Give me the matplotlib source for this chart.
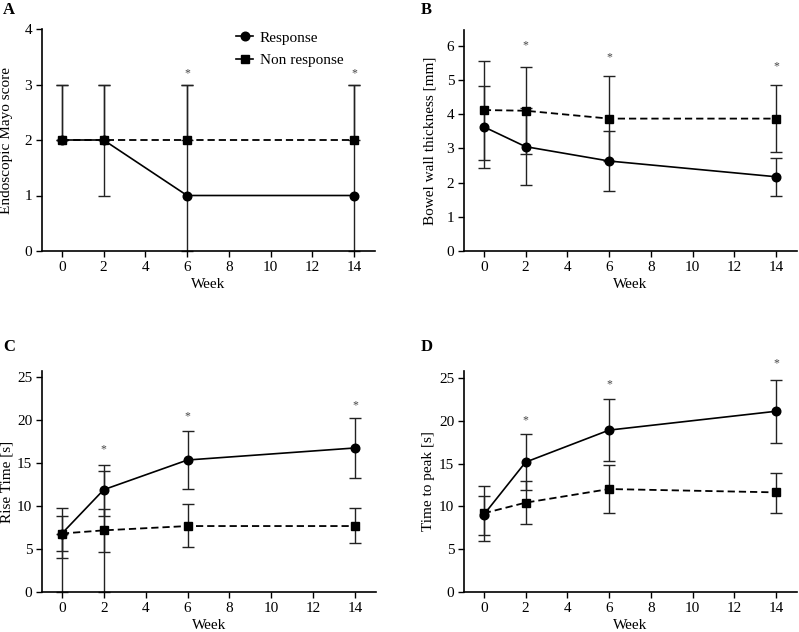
import matplotlib
matplotlib.use("Agg")
import matplotlib.pyplot as plt
from matplotlib.lines import Line2D
import numpy as np

plt.rcParams['font.family'] = ['Liberation Serif', 'DejaVu Serif']

weeks = [0, 2, 6, 14]
x_ticks = [0, 2, 4, 6, 8, 10, 12, 14]

# Panel A: Endoscopic Mayo score
a_resp = [2, 2, 1, 1]
a_resp_lo = [2, 1, 0, 0]
a_resp_hi = [3, 3, 3, 3]
a_non = [2, 2, 2, 2]
a_non_lo = [2, 2, 2, 2]
a_non_hi = [3, 3, 3, 3]
a_star_weeks = [6, 14]
a_star_y = [3.2, 3.2]

# Panel B: Bowel wall thickness
b_resp = [3.63, 3.05, 2.63, 2.17]
b_resp_lo = [2.43, 1.93, 1.75, 1.62]
b_resp_hi = [4.83, 4.17, 3.52, 2.71]
b_non = [4.12, 4.10, 3.87, 3.87]
b_non_lo = [2.67, 2.83, 2.62, 2.88]
b_non_hi = [5.56, 5.38, 5.12, 4.85]
b_star_weeks = [2, 6, 14]
b_star_y = [6.0, 5.66, 5.41]

# Panel C: Rise Time
c_resp = [6.8, 11.9, 15.35, 16.75]
c_resp_lo = [3.9, 8.88, 11.98, 13.22]
c_resp_hi = [9.73, 14.8, 18.68, 20.19]
c_non = [6.8, 7.17, 7.67, 7.67]
c_non_lo = [4.8, 4.65, 5.19, 5.74]
c_non_hi = [8.88, 9.69, 10.23, 9.77]
c_extra_weeks = [0, 2]
c_extra_lo = [0, 0]
c_extra_hi = [6.8, 14.03]
c_star_weeks = [2, 6, 14]
c_star_y = [16.6, 20.4, 21.7]

# Panel D: Time to peak
d_resp = [9.03, 15.16, 18.9, 21.1]
d_resp_lo = [6.67, 11.9, 15.35, 17.4]
d_resp_hi = [11.16, 18.41, 22.52, 24.8]
d_non = [9.19, 10.43, 12.02, 11.63]
d_non_lo = [5.97, 7.95, 9.26, 9.26]
d_non_hi = [12.33, 12.98, 14.8, 13.95]
d_star_weeks = [2, 6, 14]
d_star_y = [20.0, 24.3, 26.7]

fig = plt.figure(figsize=(7.99, 6.32), dpi=100)
W, H = 799.0, 632.0

def make_ax(l, r, t, b):
    return fig.add_axes([l / W, 1 - b / H, (r - l) / W, (b - t) / H])

axA = make_ax(42, 375, 29, 251)
axB = make_ax(464, 797, 30, 251)
axC = make_ax(42, 376, 371, 592)
axD = make_ax(464, 797, 371, 592)

def errbar(ax, x, y, lo, hi):
    y = np.array(y, float)
    lo = np.array(lo, float)
    hi = np.array(hi, float)
    ax.errorbar(x, y, yerr=[y - lo, hi - y], fmt='none', ecolor='#222222',
                elinewidth=1.0, capsize=4.6, capthick=1.0, clip_on=False, zorder=2)

def panel(ax, resp, rlo, rhi, non, nlo, nhi, ylim, yticks, ylabel, letter,
          star_w, star_y, letter_xy, label_x):
    errbar(ax, weeks, resp, rlo, rhi)
    errbar(ax, weeks, non, nlo, nhi)
    ax.plot(weeks, non, color='black', linestyle=(0, (4, 2.2)), linewidth=1.3,
            marker='s', markersize=6.2, clip_on=False, zorder=3)
    ax.plot(weeks, resp, color='black', linestyle='-', linewidth=1.2,
            marker='o', markersize=6.2, clip_on=False, zorder=4)
    for w, s in zip(star_w, star_y):
        ax.text(w, s, '*', ha='center', va='center', fontsize=8.5, color='#444444',
                clip_on=False)
    ax.set_xlim(-0.95, 15.0)
    ax.set_ylim(*ylim)
    ax.set_xticks(x_ticks)
    ax.set_yticks(yticks)
    ax.spines['top'].set_visible(False)
    ax.spines['right'].set_visible(False)
    for sp in ['left', 'bottom']:
        ax.spines[sp].set_linewidth(1.2)
    ax.tick_params(direction='out', length=4, width=1.0, labelsize=11, pad=3)
    ax.set_xlabel('Week', fontsize=11, labelpad=3)
    ax.set_ylabel(ylabel, fontsize=11)
    ax.yaxis.set_label_coords(label_x, 0.5)
    fig.text(letter_xy[0] / W, 1 - letter_xy[1] / H, letter, fontsize=12,
             fontweight='bold', ha='left', va='center')

panel(axA, a_resp, a_resp_lo, a_resp_hi, a_non, a_non_lo, a_non_hi,
      (0, 4), [0, 1, 2, 3, 4], 'Endoscopic Mayo score', 'A',
      a_star_weeks, a_star_y, (3, 10), -0.086)
panel(axB, b_resp, b_resp_lo, b_resp_hi, b_non, b_non_lo, b_non_hi,
      (0, 6.46), [0, 1, 2, 3, 4, 5, 6], 'Bowel wall thickness [mm]', 'B',
      b_star_weeks, b_star_y, (421, 10), -0.084)
panel(axC, c_resp, c_resp_lo, c_resp_hi, c_non, c_non_lo, c_non_hi,
      (0, 25.7), [0, 5, 10, 15, 20, 25], 'Rise Time [s]', 'C',
      c_star_weeks, c_star_y, (3, 347), -0.086)
errbar(axC, c_extra_weeks, c_extra_lo, c_extra_lo, c_extra_hi)
panel(axD, d_resp, d_resp_lo, d_resp_hi, d_non, d_non_lo, d_non_hi,
      (0, 25.8), [0, 5, 10, 15, 20, 25], 'Time to peak [s]', 'D',
      d_star_weeks, d_star_y, (421, 347), -0.086)

handles = [Line2D([], [], color='black', linewidth=1.2, marker='o', markersize=6.2),
           Line2D([], [], color='black', linewidth=1.2, marker='s', markersize=6.2)]
axA.legend(handles, ['Response', 'Non response'], loc='upper left',
           bbox_to_anchor=(0.56, 1.025), frameon=False, fontsize=11,
           handlelength=1.1, handletextpad=0.45, labelspacing=0.55, borderpad=0)

fig.savefig('out.png', dpi=100)
